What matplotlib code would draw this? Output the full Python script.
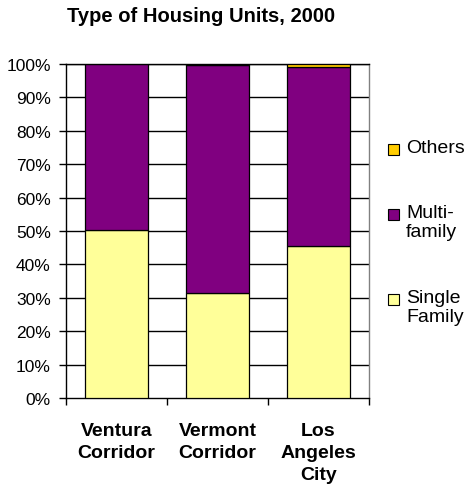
import matplotlib
matplotlib.use("Agg")
import matplotlib.pyplot as plt
from matplotlib.patches import Rectangle

plt.rcParams['font.family'] = ['Liberation Sans', 'DejaVu Sans']

categories = ["Ventura\nCorridor", "Vermont\nCorridor", "Los\nAngeles\nCity"]
single_family = [50.4, 31.4, 45.6]
multi_family = [49.6, 68.3, 53.4]
others = [0.0, 0.3, 1.0]
series_names = ["Others", "Multi-\nfamily", "Single\nFamily"]
colors = {"single": "#FFFF99", "multi": "#800080", "others": "#FFCC00"}
yticks = [0, 10, 20, 30, 40, 50, 60, 70, 80, 90, 100]

W, H = 470, 502
fig = plt.figure(figsize=(W / 100, H / 100), dpi=100)

def fx(px):
    return px / W

def fy(py):
    return 1 - py / H

ax = fig.add_axes([fx(66), fy(399), fx(369) - fx(66), fy(65) - fy(399)])

x = list(range(len(categories)))
bw = 0.62
ax.bar(x, single_family, width=bw, color=colors["single"], edgecolor="black", linewidth=0.9, zorder=3)
bottom2 = single_family
ax.bar(x, multi_family, width=bw, bottom=bottom2, color=colors["multi"], edgecolor="black", linewidth=0.9, zorder=3)
bottom3 = [a + b for a, b in zip(single_family, multi_family)]
ax.bar(x, others, width=bw, bottom=bottom3, color=colors["others"], edgecolor="black", linewidth=0.9, zorder=3)

ax.set_xlim(-0.5, len(categories) - 0.5)
ax.set_ylim(0, 100)
ax.set_yticks(yticks)
ax.set_yticklabels([f"{v}%" for v in yticks], fontsize=12.5)
for v in yticks[1:]:
    ax.axhline(v, color="black", linewidth=1.0, zorder=1)

ax.set_xticks([i + 0.5 for i in range(-1, len(categories))])
ax.set_xticklabels([])
ax.tick_params(axis="x", direction="out", length=5, width=1, color="black")
ax.tick_params(axis="y", direction="out", length=5, width=1, color="black", pad=6)
for i, c in enumerate(categories):
    ax.text(i, -7.3, c, ha="center", va="top", fontsize=14, fontweight="bold",
            linespacing=1.38, transform=ax.transData)

for s in ["left", "bottom", "top"]:
    ax.spines[s].set_color("black")
    ax.spines[s].set_linewidth(1.0)
ax.spines["right"].set_color("#808080")
ax.spines["right"].set_linewidth(1.0)

fig.text(fx(201), fy(17), "Type of Housing Units, 2000", ha="center", va="center",
         fontsize=14.5, fontweight="bold")

legend_colors = [colors["others"], colors["multi"], colors["single"]]
legend_y = [150, 215, 300]
for name, col, yy in zip(series_names, legend_colors, legend_y):
    fig.patches.append(Rectangle((fx(388), fy(yy + 5.5)), fx(11), fy(yy - 5.5) - fy(yy + 5.5),
                                 transform=fig.transFigure, facecolor=col,
                                 edgecolor="black", linewidth=0.8))
    fig.text(fx(406), fy(yy - 10), name, ha="left", va="top", fontsize=14, linespacing=1.15)

fig.savefig("out.png", dpi=100)
